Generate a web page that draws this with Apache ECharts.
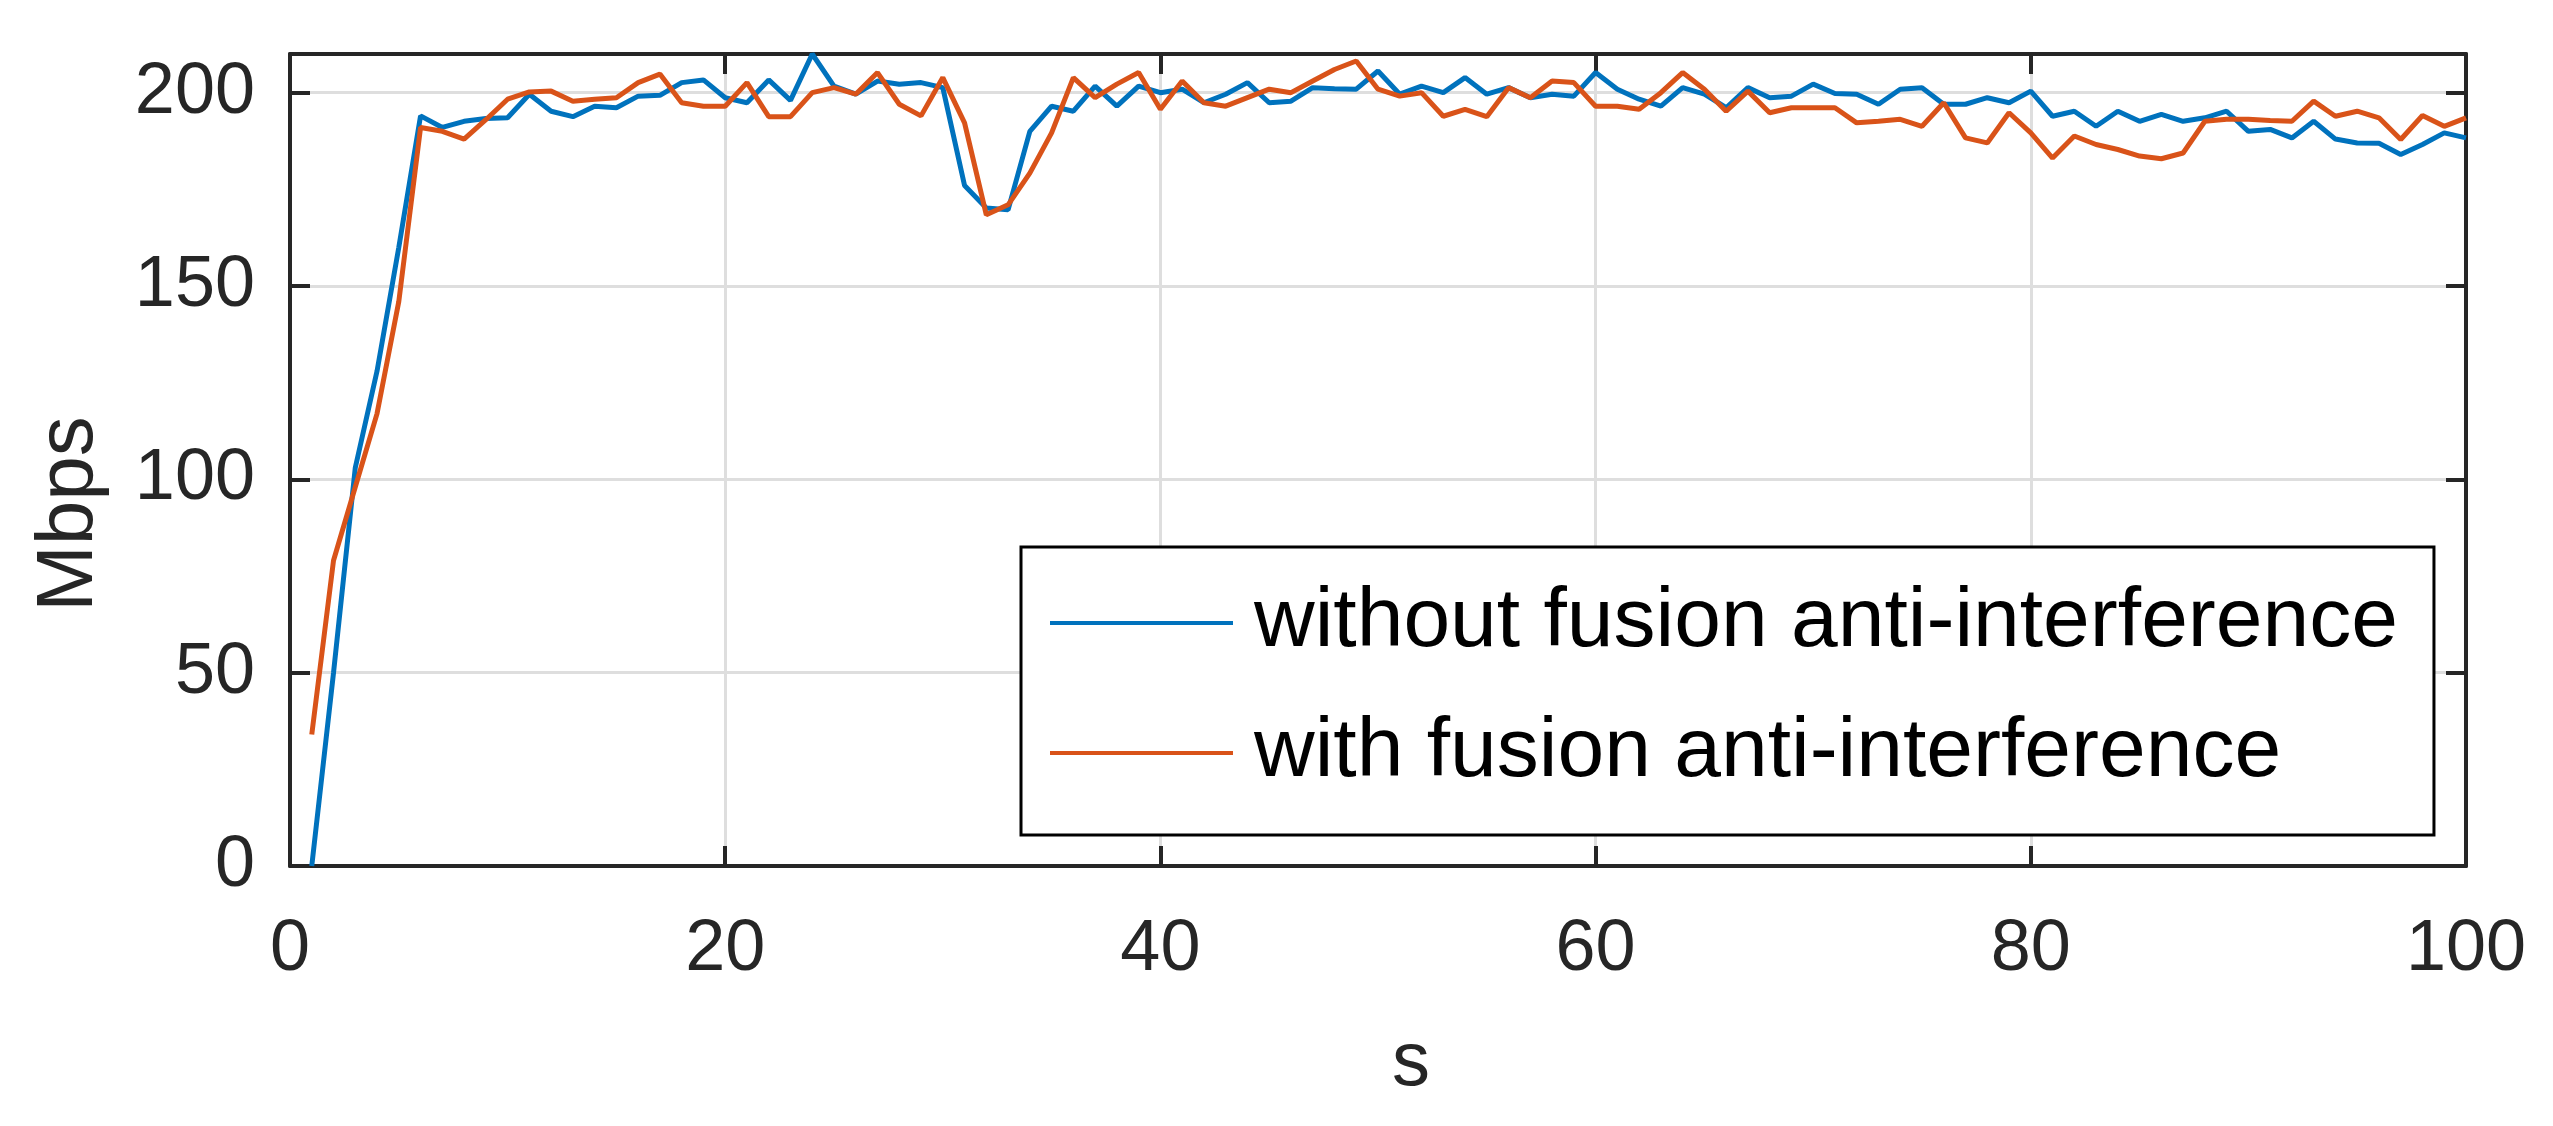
<!DOCTYPE html>
<html>
<head>
<meta charset="utf-8">
<script src="https://cdn.jsdelivr.net/npm/echarts@6/dist/echarts.min.js"></script>
<style>
  html, body { margin: 0; padding: 0; background: #fff; }
  #chart { width: 2553px; height: 1126px; }
</style>
</head>
<body>
<div id="chart"></div>
<script>
// Time axis (s) ticks and value axis ticks
const xTicks = [0, 20, 40, 60, 80, 100];
const yTicks = [0, 50, 100, 150, 200];
const seriesNames = ['without fusion anti-interference', 'with fusion anti-interference'];

// Throughput (Mbps) sampled each second, t = 1 .. 100
const withoutFusion = [
  0, 50, 103, 128, 160, 194, 191, 192.6, 193.3, 193.5,
  199.6, 195.2, 193.8, 196.5, 196.1, 199.1, 199.3, 202.6, 203.3, 198.7,
  197.4, 203.3, 198, 210, 201.7, 199.6, 203, 202.2, 202.6, 201.3,
  176, 170.2, 169.7, 190, 196.5, 195.2, 201.7, 196.5, 201.7, 200,
  200.9, 197.4, 199.6, 202.6, 197.4, 197.8, 201.3, 201, 200.9, 205.6,
  199.6, 201.7, 200, 203.9, 199.6, 201.3, 198.7, 199.6, 199.1, 205.2,
  200.9, 198.3, 196.5, 201.3, 199.6, 196.1, 201.3, 198.7, 199.1, 202.2,
  199.8, 199.6, 197, 200.9, 201.3, 197, 197, 198.7, 197.4, 200.4,
  193.9, 195.2, 191.3, 195.2, 192.6, 194.4, 192.6, 193.5, 195.2, 190,
  190.5, 188.3, 192.6, 188, 187, 186.9, 184, 186.6, 189.6, 188.3
];
const withFusion = [
  34, 79, 98, 117, 146, 191, 190, 188, 193, 198.3,
  200.2, 200.4, 197.8, 198.3, 198.7, 202.6, 204.8, 197.4, 196.5, 196.5,
  202.6, 193.8, 193.8, 200, 201.3, 199.6, 205.2, 197, 194, 203.9,
  192.2, 168.4, 171, 179.2, 189.6, 203.9, 198.7, 202.2, 205.2, 195.7,
  203, 197.4, 196.5, 198.7, 200.9, 200, 203, 206, 208.2, 200.9,
  199.1, 200, 193.9, 195.7, 193.8, 201.3, 198.7, 203, 202.6, 196.5,
  196.5, 195.7, 200, 205.2, 200.9, 195.2, 200.4, 194.8, 196.1, 196.1,
  196.1, 192.2, 192.6, 193.1, 191.3, 197.4, 188.3, 187, 194.8, 189.6,
  183.1, 188.8, 186.6, 185.3, 183.6, 182.9, 184.4, 192.6, 193.1, 193.1,
  192.8, 192.6, 197.8, 193.9, 195.2, 193.5, 187.9, 194.1, 191.3, 193.5
];

const FONT = '"Liberation Sans", Arial, Helvetica, sans-serif';
const AXIS = '#262626';
const GRID = '#dedede';
const BLUE = '#0072BD';
const ORANGE = '#D95319';

function toPairs(arr) { return arr.map((v, i) => [i + 1, v]); }

const xMin = xTicks[0], xMax = xTicks[xTicks.length - 1], xInt = xTicks[1] - xTicks[0];
const yMin = yTicks[0], yMax = 210, yInt = yTicks[1] - yTicks[0];

const chart = echarts.init(document.getElementById('chart'), null, { renderer: 'canvas' });
chart.setOption({
  animation: false,
  backgroundColor: '#ffffff',
  grid: { left: 290, right: 87, top: 54, bottom: 260, containLabel: false },
  xAxis: [{
    type: 'value', min: xMin, max: xMax, interval: xInt,
    name: 's', nameLocation: 'middle', nameGap: 160,
    nameTextStyle: { fontFamily: FONT, fontSize: 76, color: AXIS, padding: [0, 0, 0, 66] },
    axisLine: { show: true, onZero: false, lineStyle: { color: AXIS, width: 4 } },
    axisTick: { show: true, inside: true, length: 20, lineStyle: { color: AXIS, width: 4 } },
    axisLabel: { fontFamily: FONT, fontSize: 72, color: AXIS, margin: 48 },
    splitLine: { show: true, lineStyle: { color: GRID, width: 3 } }
  }, {
    type: 'value', min: xMin, max: xMax, interval: xInt, position: 'top',
    axisLine: { show: true, onZero: false, lineStyle: { color: AXIS, width: 4 } },
    axisTick: { show: true, inside: true, length: 20, lineStyle: { color: AXIS, width: 4 } },
    axisLabel: { show: false }, splitLine: { show: false }
  }],
  yAxis: [{
    type: 'value', min: yMin, max: yMax, interval: yInt,
    name: 'Mbps', nameLocation: 'middle', nameGap: 180,
    nameTextStyle: { fontFamily: FONT, fontSize: 80, color: AXIS, padding: [0, 108, 0, 0] },
    axisLine: { show: true, onZero: false, lineStyle: { color: AXIS, width: 4 } },
    axisTick: { show: true, inside: true, length: 20, lineStyle: { color: AXIS, width: 4 } },
    axisLabel: { fontFamily: FONT, fontSize: 72, color: AXIS, margin: 35, showMaxLabel: false },
    splitLine: { show: true, lineStyle: { color: GRID, width: 3 } }
  }, {
    type: 'value', min: yMin, max: yMax, interval: yInt, position: 'right',
    axisLine: { show: true, onZero: false, lineStyle: { color: AXIS, width: 4 } },
    axisTick: { show: true, inside: true, length: 20, lineStyle: { color: AXIS, width: 4 } },
    axisLabel: { show: false }, splitLine: { show: false }
  }],
  legend: {
    orient: 'vertical', left: 1021, top: 547,
    padding: [34, 36, 40, 29],
    itemGap: 46, itemWidth: 183, itemHeight: 4, icon: 'rect',
    borderColor: '#000', borderWidth: 3, backgroundColor: '#fff',
    textStyle: { fontFamily: FONT, fontSize: 84, color: '#000', padding: [0, 0, 0, 16] },
    data: seriesNames
  },
  series: [{
    name: seriesNames[0], type: 'line', data: toPairs(withoutFusion),
    symbol: 'none', color: BLUE, itemStyle: { color: BLUE }, lineStyle: { width: 5, color: BLUE }
  }, {
    name: seriesNames[1], type: 'line', data: toPairs(withFusion),
    symbol: 'none', color: ORANGE, itemStyle: { color: ORANGE }, lineStyle: { width: 5, color: ORANGE }
  }]
});
</script>
</body>
</html>
